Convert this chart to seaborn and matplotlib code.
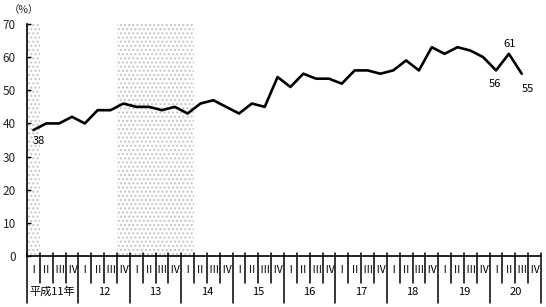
import matplotlib
matplotlib.use("Agg")
import matplotlib.pyplot as plt
import matplotlib.transforms as mtransforms
import seaborn as sns
import pandas as pd
import numpy as np

# ---- data ----
years = ["平成11年", "12", "13", "14", "15", "16", "17", "18", "19", "20"]
quarter_labels = ["Ⅰ", "Ⅱ", "Ⅲ", "Ⅳ"]
values = [38, 40, 40, 42, 40, 44, 44, 46, 45, 45,
          44, 45, 43, 46, 47, 45, 43, 46, 45, 54,
          51, 55, 53.5, 53.5, 52, 56, 56, 55, 56, 59,
          56, 63, 61, 63, 62, 60, 56, 61, 55]
shaded_quarters = [(0, 1), (7, 13)]          # recession periods (quarter index ranges)
labelled = {0: (5, -11), 36: (-1, -14), 37: (1, 10), 38: (6, -15)}  # offsets in px
y_ticks = [0, 10, 20, 30, 40, 50, 60, 70]

sns.set_theme(style="white")
plt.rcParams['font.family'] = ['Noto Sans CJK JP', 'DejaVu Sans']

W, H = 546, 307
fig = plt.figure(figsize=(W / 100, H / 100), dpi=100)
ax_l, ax_r, ax_t, ax_b = 27, 541, 24, 256
ax = fig.add_axes([ax_l / W, 1 - ax_b / H, (ax_r - ax_l) / W, (ax_b - ax_t) / H])
ax_h_px = ax_b - ax_t

n_q = len(years) * 4
df = pd.DataFrame({"x": np.arange(len(values)) + 0.5, "y": values})

for a, b in shaded_quarters:
    ax.axvspan(a, b, facecolor="white", edgecolor="#c4c4c4", hatch="....",
               linewidth=0, zorder=0)

sns.lineplot(data=df, x="x", y="y", ax=ax, color="black", linewidth=1.9,
             zorder=3)

ax.set_xlim(0, n_q)
ax.set_ylim(0, 70)
ax.set_xlabel("")
ax.set_ylabel("")
ax.set_xticks([])
ax.set_yticks(y_ticks)
ax.set_yticklabels([str(t) for t in y_ticks], fontsize=8.5)
ax.tick_params(axis="y", direction="in", length=3, width=1, color="black",
               left=True, pad=8)
for s in ["top", "right"]:
    ax.spines[s].set_visible(False)
for s in ["left", "bottom"]:
    ax.spines[s].set_color("black")
    ax.spines[s].set_linewidth(1.2)

# data labels
for i, (dx, dy) in labelled.items():
    v = values[i]
    lab = str(int(round(v)))
    ax.annotate(lab, (i + 0.5, v), xytext=(dx * 0.72, dy * 0.72),
                textcoords="offset points", ha="center", va="center",
                fontsize=8, color="black")

# x-axis table (quarter / year cells)
trans = mtransforms.blended_transform_factory(ax.transData, ax.transAxes)
def fy(px):
    return -(px - ax_b) / ax_h_px

for q in range(n_q + 1):
    if q % 4 == 0:
        ax.plot([q, q], [fy(253), fy(303)], color="black", lw=1.1,
                transform=trans, clip_on=False)
    else:
        ax.plot([q, q], [fy(253), fy(283)], color="black", lw=1.1,
                transform=trans, clip_on=False)

for q in range(n_q):
    ax.text(q + 0.5, fy(270), quarter_labels[q % 4], transform=trans,
            ha="center", va="center", fontsize=7.5, color="black")

for k, yl in enumerate(years):
    ax.text(4 * k + 2, fy(292), yl, transform=trans, ha="center",
            va="center", fontsize=8, color="black")

fig.text(24 / W, 1 - 10 / H, "（%）", ha="center", va="center", fontsize=7.5)

fig.savefig("out.png", dpi=100)
